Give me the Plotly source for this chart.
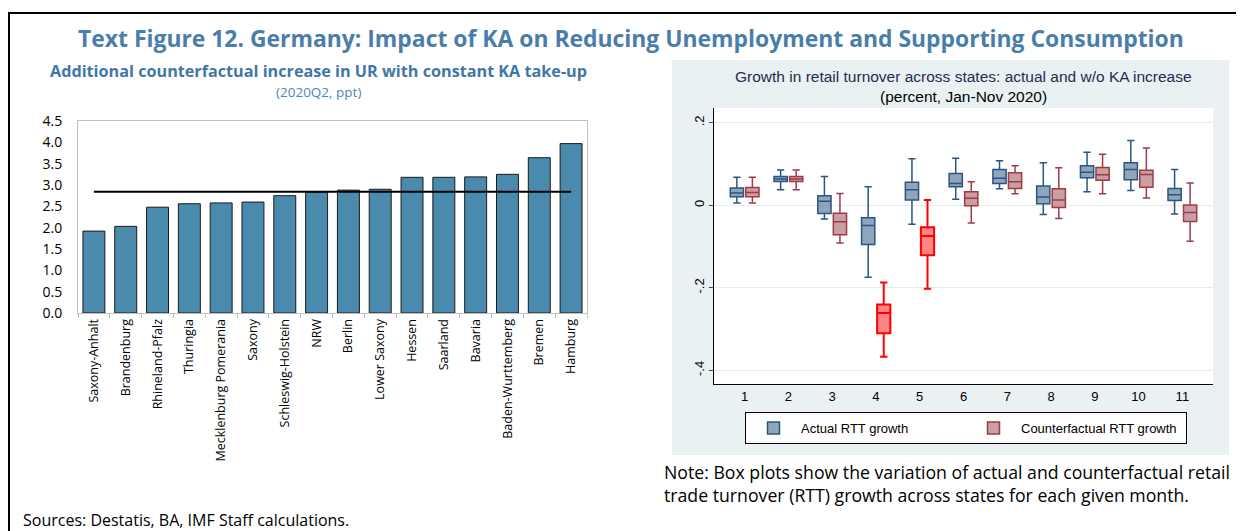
import plotly.graph_objects as go

W, H = 1244, 531
OFF = 8  # page body margin in the browser

# left chart data
states = ["Saxony-Anhalt", "Brandenburg", "Rhineland-Pfalz", "Thuringia", "Mecklenburg Pomerania",
          "Saxony", "Schleswig-Holstein", "NRW", "Berlin", "Lower Saxony", "Hessen", "Saarland",
          "Bavaria", "Baden-Wurttemberg", "Bremen", "Hamburg"]
ur_increase = [1.92, 2.03, 2.48, 2.56, 2.58, 2.60, 2.75, 2.83, 2.88, 2.90, 3.18, 3.18, 3.19, 3.25, 3.64, 3.97]
ur_avg = 2.84

# right chart data (box stats per month)
months = [1, 2, 3, 4, 5, 6, 7, 8, 9, 10, 11]
act_lo = [0.006, 0.038, -0.033, -0.174, -0.046, 0.015, 0.040, -0.022, 0.033, 0.036, -0.021]
act_q1 = [0.021, 0.058, -0.020, -0.095, 0.013, 0.045, 0.053, 0.004, 0.067, 0.062, 0.012]
act_med = [0.030, 0.064, 0.010, -0.049, 0.038, 0.053, 0.066, 0.020, 0.080, 0.087, 0.026]
act_q3 = [0.042, 0.070, 0.023, -0.030, 0.056, 0.077, 0.087, 0.047, 0.096, 0.103, 0.041]
act_hi = [0.068, 0.086, 0.070, 0.045, 0.113, 0.114, 0.108, 0.103, 0.129, 0.157, 0.087]

cf_lo = [0.006, 0.038, -0.091, -0.367, -0.202, -0.043, 0.028, -0.032, 0.028, 0.018, -0.087]
cf_q1 = [0.021, 0.058, -0.071, -0.310, -0.121, -0.001, 0.041, -0.005, 0.061, 0.044, -0.039]
cf_med = [0.031, 0.064, -0.040, -0.261, -0.074, 0.017, 0.057, 0.013, 0.074, 0.075, -0.017]
cf_q3 = [0.043, 0.070, -0.019, -0.240, -0.053, 0.033, 0.079, 0.040, 0.092, 0.085, 0.001]
cf_hi = [0.068, 0.086, 0.029, -0.187, 0.013, 0.057, 0.096, 0.091, 0.124, 0.139, 0.054]
highlight = [4, 5]


def px_x(p):
    return (p - OFF) / W


def px_y(p):
    return 1 - (p - OFF) / H


fig = go.Figure()

fig.add_trace(go.Bar(
    x=states, y=ur_increase, xaxis="x", yaxis="y",
    marker=dict(color="#4A8AAD", line=dict(color="#1a1a1a", width=1)),
    showlegend=False,
))
fig.add_trace(go.Scatter(
    x=states, y=[ur_avg] * len(states), xaxis="x", yaxis="y",
    mode="lines", line=dict(color="black", width=2), showlegend=False,
))


def pick(vals, keep):
    return [v for m, v in zip(months, vals) if keep(m)]


norm = lambda m: m not in highlight
hl = lambda m: m in highlight

fig.add_trace(go.Box(
    name="Actual RTT growth", x=months, q1=act_q1, median=act_med, q3=act_q3,
    lowerfence=act_lo, upperfence=act_hi, xaxis="x2", yaxis="y2",
    offsetgroup="a", fillcolor="rgba(112,140,168,0.78)",
    line=dict(color="#2B5583", width=1.5), whiskerwidth=0.55,
))
fig.add_trace(go.Box(
    name="Counterfactual RTT growth", x=pick(months, norm), q1=pick(cf_q1, norm),
    median=pick(cf_med, norm), q3=pick(cf_q3, norm), lowerfence=pick(cf_lo, norm),
    upperfence=pick(cf_hi, norm), xaxis="x2", yaxis="y2",
    offsetgroup="c", fillcolor="rgba(185,125,130,0.75)",
    line=dict(color="#9E3B48", width=1.5), whiskerwidth=0.55,
))
fig.add_trace(go.Box(
    name="Counterfactual (highlight)", x=pick(months, hl), q1=pick(cf_q1, hl),
    median=pick(cf_med, hl), q3=pick(cf_q3, hl), lowerfence=pick(cf_lo, hl),
    upperfence=pick(cf_hi, hl), xaxis="x2", yaxis="y2",
    offsetgroup="c", fillcolor="rgba(255,110,110,0.85)",
    line=dict(color="#FF0000", width=2), whiskerwidth=0.55, showlegend=False,
))

shapes = [
    # outer frame
    dict(type="rect", xref="paper", yref="paper", x0=px_x(9), x1=1.05, y0=-0.05, y1=px_y(13),
         line=dict(color="black", width=2), fillcolor="rgba(0,0,0,0)", layer="below"),
    # right panel background
    dict(type="rect", xref="paper", yref="paper", x0=px_x(672), x1=px_x(1229), y0=px_y(455), y1=px_y(60),
         line=dict(width=0), fillcolor="#EAF1F3", layer="below"),
    dict(type="rect", xref="paper", yref="paper", x0=px_x(714), x1=px_x(1213), y0=px_y(384), y1=px_y(108),
         line=dict(width=0), fillcolor="white", layer="below"),
]

blue = "#4A7EAA"
ann = [
    dict(text="<b>Text Figure 12. Germany: Impact of KA on Reducing Unemployment and Supporting Consumption</b>",
         x=px_x(631), y=px_y(38), font=dict(family="Open Sans", size=22.9, color=blue)),
    dict(text="<b>Additional counterfactual increase in UR with constant KA take-up</b>",
         x=px_x(318), y=px_y(71), font=dict(family="Open Sans", size=16.2, color="#3F78A6")),
    dict(text="(2020Q2, ppt)", x=px_x(318), y=px_y(92), font=dict(family="Open Sans", size=13.5, color="#4B86B8")),
    dict(text="Growth in retail turnover across states: actual and w/o KA increase",
         x=px_x(963), y=px_y(76), font=dict(family="Arial, Liberation Sans", size=15.5, color="#1E2D4D")),
    dict(text="(percent, Jan-Nov 2020)", x=px_x(963), y=px_y(97),
         font=dict(family="Arial, Liberation Sans", size=15.5, color="black")),
    dict(text="Note: Box plots show the variation of actual and counterfactual retail<br>"
              "trade turnover (RTT) growth across states for each given month.",
         x=px_x(662), y=px_y(483), xanchor="left", align="left",
         font=dict(family="Open Sans", size=17.7, color="black")),
    dict(text="Sources: Destatis, BA, IMF Staff calculations.", x=px_x(21), y=px_y(520), xanchor="left",
         font=dict(family="Open Sans", size=16, color="black")),
]
for a in ann:
    a.setdefault("xanchor", "center")
    a.update(xref="paper", yref="paper", yanchor="middle", showarrow=False)

fig.update_layout(
    width=W, height=H, margin=dict(l=0, r=0, t=0, b=0, autoexpand=False),
    paper_bgcolor="white", plot_bgcolor="white",
    font=dict(family="Open Sans", color="black"),
    bargap=0.31, boxmode="group", boxgap=0.29, boxgroupgap=0.15,
    xaxis=dict(domain=[px_x(78), px_x(587)], anchor="y", showline=True, mirror=True, automargin=False,
               linecolor="#BFBFBF", linewidth=1, tickangle=-90, ticks="outside",
               tickson="boundaries", ticklen=4, tickcolor="#BFBFBF",
               tickfont=dict(family="Open Sans", size=12.5, color="black"), showgrid=False),
    yaxis=dict(domain=[px_y(313), px_y(121)], anchor="x", range=[0, 4.5], dtick=0.5, automargin=False,
               tickformat=".1f", showline=True, mirror=True, linecolor="#BFBFBF", showgrid=False,
               zeroline=False, ticklabelstandoff=12,
               tickfont=dict(family="Open Sans", size=14, color="black")),
    xaxis2=dict(domain=[px_x(714), px_x(1213)], anchor="y2", range=[0.3, 11.7], automargin=False,
                tickvals=months, showline=True, linecolor="black", linewidth=1.2, showgrid=False,
                zeroline=False, tickfont=dict(family="Arial, Liberation Sans", size=13, color="black")),
    yaxis2=dict(domain=[px_y(384), px_y(108)], anchor="x2", range=[-0.433, 0.236], automargin=False,
                tickvals=[0.2, 0, -0.2, -0.4], ticktext=[".2", "0", "-.2", "-.4"], tickangle=-90,
                showline=True, linecolor="black", linewidth=1.2, ticks="outside", ticklen=4,
                showgrid=True, gridcolor="#E4ECEF", gridwidth=1, zeroline=False,
                tickfont=dict(family="Arial, Liberation Sans", size=13, color="black")),
    legend=dict(orientation="h", x=px_x(966), y=px_y(428), xanchor="center", yanchor="middle",
                bgcolor="white", bordercolor="black", borderwidth=1, itemwidth=45,
                entrywidth=160, entrywidthmode="pixels",
                font=dict(family="Arial, Liberation Sans", size=13, color="black")),
    shapes=shapes, annotations=ann,
)

fig.write_html("out.html")
